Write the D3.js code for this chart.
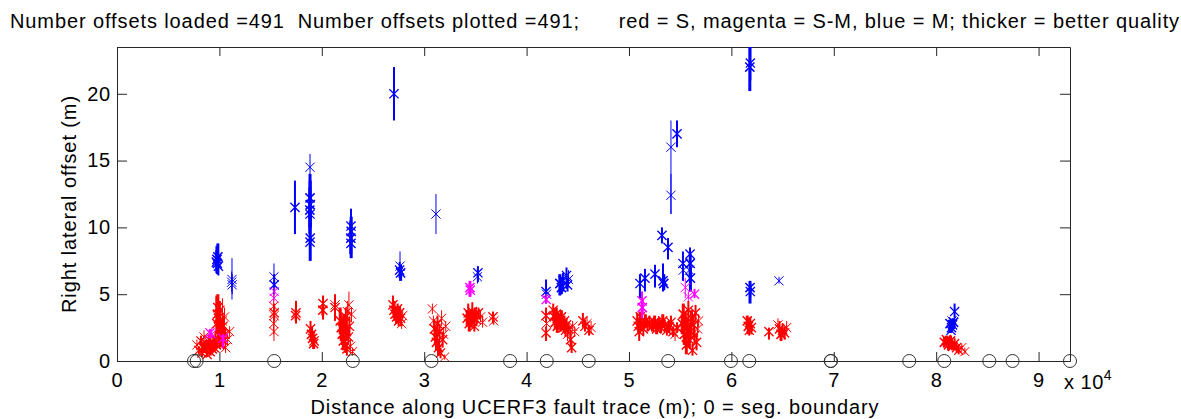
<!DOCTYPE html>
<html><head><meta charset="utf-8">
<script src="https://cdn.jsdelivr.net/npm/d3@7"></script>
<style>
body{margin:0;background:#fff}
text{font-family:"Liberation Sans",Arial,Helvetica,sans-serif;fill:#000}
</style>
</head><body>
<svg id="chart" width="1181" height="419"></svg>
<script>
// ---------------- DATA ----------------
const titleText = "Number offsets loaded =491  Number offsets plotted =491;      red = S, magenta = S-M, blue = M; thicker = better quality";
const xLabelText = "Distance along UCERF3 fault trace (m); 0 = seg. boundary";
const yLabelText = "Right lateral offset (m)";
const xTicks = [0, 10000, 20000, 30000, 40000, 50000, 60000, 70000, 80000, 90000];
const yTicks = [0, 5, 10, 15, 20];
const yMax = 23.5;

// segment boundaries (m), plotted as circles at offset 0
const segBoundaries = [7520, 7780, 15350, 23030, 30710, 38390, 41970, 46070, 53830,
  59960, 61750, 69700, 69730, 77370, 80790, 85190, 87460, 93070];

// rows: [distance (m), offset (m), min offset, max offset, quality 1..3]
const offsetsS = [
  [7800,1.2,0.8,1.6,1],[8000,0.8,0.5,1.1,2],[8200,1.5,1.1,1.9,2],[8300,0.6,0.3,0.9,2],[8400,1.0,0.6,1.4,3],
  [8500,1.8,1.4,2.3,1],[8600,0.9,0.6,1.3,3],[8700,1.3,0.9,1.6,3],[8800,0.5,0.3,0.8,2],[8900,1.1,0.8,1.5,3],
  [9000,1.6,1.2,2.0,2],[9100,0.7,0.4,1.0,3],[9200,1.2,0.9,1.6,3],[9300,0.9,0.6,1.2,3],[9400,1.4,1.0,1.8,2],
  [9500,1.0,0.7,1.3,3],[9600,1.7,1.3,2.1,2],[9700,1.2,0.9,1.5,3],[9750,2.8,2.0,4.9,3],[9800,3.5,2.5,4.8,3],
  [9850,4.0,3.0,5.0,3],[9900,3.2,2.4,4.2,3],[9950,2.5,1.8,3.5,2],[10000,1.9,1.4,2.6,3],[10050,3.8,3.0,4.5,2],
  [10100,1.3,1.0,1.7,3],[10200,2.2,1.5,3.0,3],[10300,3.0,1.0,4.7,1],[10350,2.6,1.8,3.4,2],[10400,1.5,0.9,2.2,2],
  [10500,3.3,2.5,4.0,1],[10550,2.0,1.5,2.5,2],[10600,1.0,0.6,1.4,1],[10800,1.6,1.2,2.0,1],[11000,2.2,1.8,2.6,1],
  [15300,4.1,3.2,5.0,1],[15350,3.4,2.8,4.0,1],[15300,2.8,2.0,3.6,1],[15330,2.2,1.5,2.9,1],[15350,3.6,3.0,4.3,2],
  [17480,3.6,2.8,4.5,2],[17450,3.4,3.0,3.9,2],
  [18900,2.4,1.8,3.0,2],[19000,2.0,1.5,2.6,3],[19100,1.7,1.3,2.2,3],[19200,1.3,0.9,1.7,3],[19250,1.5,1.0,2.0,2],
  [20120,4.3,3.1,4.9,2],[20100,3.8,3.4,4.2,3],[21290,4.0,3.0,5.0,2],[21300,4.2,3.8,4.6,1],
  [21800,3.0,2.0,4.0,3],[21900,2.5,1.5,3.5,3],[22000,2.0,1.2,2.8,3],[22100,1.5,0.8,2.2,3],[22200,2.8,2.0,3.5,3],
  [22300,1.2,0.6,1.8,2],[22350,3.3,2.5,4.0,2],[22400,2.2,1.5,3.0,3],[22450,0.9,0.4,1.4,2],[22500,3.7,3.0,4.5,1],
  [22600,1.8,1.2,2.4,2],[22650,4.2,3.5,5.2,1],[22700,2.6,2.0,3.3,2],[22800,1.1,0.7,1.6,1],[22900,3.5,2.9,4.0,1],
  [23000,0.7,0.4,1.0,1],
  [26950,4.2,3.6,4.9,2],[27050,3.8,3.2,4.5,3],[27150,3.5,3.0,4.0,3],[27300,3.3,2.8,3.8,3],[27400,3.9,3.4,4.3,2],
  [27500,3.0,2.6,3.5,2],[27600,3.6,3.0,4.1,3],[27700,3.2,2.6,3.6,2],[27800,2.8,2.4,3.2,1],[27900,3.4,3.0,3.8,1],
  [30800,3.9,3.5,4.3,1],[30900,3.0,2.5,3.4,1],[31000,2.4,1.8,3.0,2],[31100,1.8,1.2,2.5,3],[31200,1.4,0.8,2.0,3],
  [31300,2.8,2.2,3.4,2],[31400,1.0,0.4,1.5,3],[31500,2.2,1.6,2.8,2],[31600,0.6,0.2,1.0,2],[31700,3.2,2.6,3.8,1],
  [31800,1.6,1.0,2.2,2],[31900,2.0,1.5,2.5,1],[32000,0.3,0.1,0.5,1],[32100,2.6,2.2,3.0,1],
  [34200,3.2,2.6,3.8,3],[34300,3.6,3.0,4.3,2],[34400,2.8,2.2,3.3,3],[34500,3.4,3.0,3.8,3],[34600,3.0,2.5,3.6,3],
  [34700,3.7,3.2,4.4,2],[34800,3.3,2.8,3.7,3],[34900,2.6,2.2,3.0,2],[35000,3.5,3.0,4.0,3],[35100,3.1,2.6,3.5,2],
  [35300,3.6,3.2,4.0,2],[35500,3.3,2.9,3.8,1],[35700,2.9,2.5,3.4,1],
  [36720,3.3,2.8,3.7,2],[36800,3.0,2.7,3.4,1],
  [41900,3.4,2.9,4.0,2],[41900,2.1,1.5,2.6,2],[41950,2.8,2.2,3.4,1],
  [42600,3.8,3.0,4.3,2],[42700,3.3,2.8,3.9,3],[42800,2.9,2.4,3.5,3],[42900,3.5,3.0,4.0,3],[43000,2.6,2.1,3.1,3],
  [43100,3.1,2.7,3.6,3],[43200,3.0,2.6,3.4,3],[43300,2.7,2.2,3.1,2],[43400,3.3,2.9,3.8,3],[43500,2.8,2.4,3.2,3],
  [43600,2.5,2.1,3.0,2],[43700,3.0,2.6,3.4,2],[43800,2.3,1.8,2.8,2],[43900,2.7,2.3,3.2,2],[44000,2.0,1.5,2.5,1],
  [44100,2.4,2.0,2.9,2],[44300,1.6,1.0,2.2,2],[44400,1.0,0.6,1.5,2],[44500,2.6,2.2,3.0,1],[44700,2.2,1.8,2.6,1],
  [45500,3.0,2.5,3.6,2],[45700,2.6,2.2,3.1,2],[45900,2.8,2.4,3.3,1],[46100,2.3,1.9,2.7,2],[46300,2.5,2.0,3.0,1],
  [50800,3.0,2.5,3.6,2],[50900,2.6,2.0,3.2,2],[51000,2.2,1.5,2.8,2],[51100,3.3,2.8,3.7,3],[51200,2.8,2.3,3.3,3],
  [51400,2.4,1.9,3.0,2],[51600,3.0,2.5,3.5,3],[51800,2.7,2.2,3.2,2],[52000,2.9,2.4,3.4,2],
  [52300,2.6,2.2,3.0,3],[52500,2.9,2.4,3.4,3],[52700,2.4,2.0,2.9,3],[52900,2.8,2.4,3.2,3],[53100,2.5,2.1,3.0,3],
  [53300,3.0,2.5,3.5,3],[53500,2.7,2.2,3.1,2],[53700,2.3,1.9,2.8,2],[53900,2.6,2.1,3.0,3],[54100,2.9,2.5,3.4,2],
  [54300,2.2,1.8,2.6,2],[54500,2.0,1.5,2.5,1],[54700,2.5,2.1,2.9,2],
  [55200,2.8,2.0,3.5,3],[55300,3.5,2.8,4.3,3],[55400,2.0,1.2,2.8,3],[55500,3.0,2.4,3.6,3],[55600,1.2,0.5,2.0,3],
  [55700,2.5,1.8,3.2,3],[55800,3.8,3.0,4.5,2],[55900,1.6,1.0,2.3,3],[56000,2.2,1.6,2.9,3],[56100,3.2,2.6,3.8,3],
  [56200,0.8,0.4,1.3,2],[56300,2.7,2.0,3.4,2],[56400,1.9,1.3,2.6,2],[56500,3.6,3.0,4.2,2],[56600,1.4,0.8,2.0,2],
  [56700,2.4,1.8,3.0,1],[56800,3.0,2.5,3.5,1],
  [61550,3.0,2.4,3.4,3],[61650,2.6,2.0,3.2,3],[61750,2.3,1.9,2.8,2],[61850,2.8,2.3,3.3,2],[61950,2.5,2.0,3.0,2],
  [63670,2.2,1.6,2.5,2],
  [64550,2.7,2.2,3.2,1],[64700,2.4,1.8,3.0,2],[64850,2.0,1.5,2.5,3],[65000,2.3,1.8,2.8,2],[65200,2.1,1.6,2.6,2],
  [65400,2.5,2.0,3.0,1],
  [80800,1.4,1.0,1.8,3],[81000,1.6,1.2,1.9,3],[81200,1.2,0.8,1.6,3],[81400,1.5,1.1,1.9,3],[81600,1.1,0.8,1.5,3],
  [81800,1.3,0.9,1.7,2],[82000,1.0,0.6,1.4,2],[82200,0.8,0.5,1.2,2],[82500,1.0,0.7,1.3,1],[82800,0.7,0.5,1.0,1]
];

const offsetsSM = [
  [9080,2.1,1.7,2.4,2],[9250,2.0,1.7,2.5,1],[10350,1.7,1.0,2.0,2],
  [15350,5.2,4.9,5.5,1],[15330,4.7,4.5,5.0,1],
  [34470,5.5,4.8,6.0,3],[34500,5.3,4.9,5.7,2],
  [41920,4.6,4.3,5.0,2],
  [51270,4.5,3.2,5.2,2],[51300,4.0,3.5,4.6,3],
  [55500,5.5,4.7,6.2,1],[56400,5.0,4.7,5.4,2],[55800,4.8,4.5,5.2,1]
];

const offsetsM = [
  [9760,7.6,6.8,8.6,3],[9800,7.3,6.5,8.2,3],[9850,7.8,7.0,8.8,3],[9900,7.1,6.4,7.8,2],[9700,7.4,6.6,8.3,2],
  [11230,6.1,4.6,7.7,1],[11250,5.7,5.0,6.5,1],[11200,5.9,5.2,6.7,1],
  [15330,6.3,5.0,7.3,1],[15350,5.7,5.0,6.5,2],
  [17380,11.5,9.5,13.5,2],
  [18850,14.5,13.4,15.5,1],[18850,12.2,10.0,14.0,3],[18870,11.7,10.0,13.5,3],[18830,11.3,9.5,13.0,3],
  [18850,11.0,9.5,12.5,2],[18870,9.2,7.5,11.0,3],[18850,8.9,7.5,10.5,2],
  [22850,10.1,8.5,11.4,2],[22870,9.7,7.7,10.8,3],[22830,9.2,8.0,10.5,3],[22850,8.8,7.7,10.0,2],
  [27050,20.0,18.0,22.0,2],
  [27640,7.1,6.0,8.2,1],[27700,6.6,6.0,7.2,3],[27600,6.8,6.2,7.4,2],
  [31150,11.0,9.5,12.5,1],
  [35250,6.6,5.9,7.1,2],[35200,6.3,5.8,6.9,1],
  [41900,5.2,4.3,6.1,2],[41950,5.0,4.5,5.5,1],
  [43250,5.8,4.9,6.5,3],[43400,5.5,5.0,6.3,3],[43550,6.0,5.2,6.6,2],[43900,6.4,5.4,7.0,2],[44100,6.1,5.5,6.8,1],
  [44000,5.7,5.2,6.2,2],
  [51070,5.8,4.7,6.5,2],[51560,6.2,5.2,6.9,2],[52540,6.5,5.5,7.2,2],[53320,6.0,5.2,7.3,2],[53400,5.8,5.3,6.5,3],
  [53220,9.4,8.8,10.0,2],[53810,8.5,7.6,9.2,2],[54100,16.0,11.0,18.0,1],[54100,12.4,11.0,14.0,1],
  [54690,17.0,16.0,18.0,2],[55270,7.3,6.0,8.2,2],[55300,6.8,6.0,7.5,1],
  [55960,8.0,6.5,8.5,2],[55980,7.3,6.2,8.0,3],[56000,6.2,5.2,7.0,3],[55900,6.8,6.0,7.5,1],
  [61800,22.0,20.2,23.5,3],[61850,22.3,21.0,23.5,2],[61820,5.5,4.3,6.0,3],[61850,5.2,4.8,5.8,2],
  [64650,6.0,5.8,6.3,1],
  [81350,2.8,2.1,3.1,3],[81500,2.5,2.2,3.0,3],[81600,2.7,2.3,3.1,2],[81700,2.9,2.4,3.2,3],[81450,2.3,2.1,2.6,2],
  [81800,3.7,3.2,4.3,2],[81550,3.0,2.6,3.2,1]
];

const seriesColors = {S: "#ff0000", SM: "#ff00ff", M: "#0000ff"};

// ---------------- CHART ----------------
const W = 1181, H = 419;
const L = 117, R = 1070, T = 47, B = 361;
const svg = d3.select("#chart");
svg.append("rect").attr("width", W).attr("height", H).attr("fill", "#fff");

const x = d3.scaleLinear().domain([0, d3.max(segBoundaries)]).range([L, R]);
const y = d3.scaleLinear().domain([0, yMax]).range([B, T]);

svg.append("defs").append("clipPath").attr("id", "clip")
  .append("rect").attr("x", L).attr("y", T).attr("width", R - L).attr("height", B - T);

const FS = 20;
const LS = 0.9;
const axisColor = "#262626";

// axes
const gx = svg.append("g").attr("transform", `translate(0,${B})`)
  .call(d3.axisBottom(x).tickValues(xTicks).tickSize(-9).tickSizeOuter(0).tickPadding(12)
    .tickFormat(d => d3.format("d")(d / 10000)));
const gxt = svg.append("g").attr("transform", `translate(0,${T})`)
  .call(d3.axisTop(x).tickValues(xTicks).tickSize(-9).tickSizeOuter(0).tickFormat(""));
const gy = svg.append("g").attr("transform", `translate(${L},0)`)
  .call(d3.axisLeft(y).tickValues(yTicks).tickSize(-10).tickSizeOuter(0).tickPadding(6));
const gyr = svg.append("g").attr("transform", `translate(${R},0)`)
  .call(d3.axisRight(y).tickValues(yTicks).tickSize(-10).tickSizeOuter(0).tickFormat(""));
[gx, gxt, gy, gyr].forEach(g => {
  g.selectAll("path,line").attr("stroke", axisColor);
  g.selectAll("text").attr("font-size", FS).attr("letter-spacing", 0.8)
    .attr("font-family", '"Liberation Sans",Arial,sans-serif').attr("fill", "#000");
});

// data marks
const plot = svg.append("g").attr("clip-path", "url(#clip)");
const barWidth = q => [0, 1, 2, 3][q];
const markWidth = q => [0, 1, 1.3, 1.5][q];
const ms = 4.6;
function drawSeries(rows, color) {
  const g = plot.append("g");
  g.selectAll("line").data(rows).join("line")
    .attr("x1", d => x(d[0])).attr("x2", d => x(d[0]))
    .attr("y1", d => y(d[2])).attr("y2", d => y(d[3]))
    .attr("stroke", color).attr("stroke-width", d => barWidth(d[4]));
  g.selectAll("path").data(rows).join("path")
    .attr("d", d => {
      const cx = x(d[0]), cy = y(d[1]);
      return `M${cx - ms},${cy - ms}L${cx + ms},${cy + ms}M${cx - ms},${cy + ms}L${cx + ms},${cy - ms}`;
    })
    .attr("fill", "none").attr("stroke", color).attr("stroke-width", d => markWidth(d[4]));
}
drawSeries(offsetsS, seriesColors.S);
drawSeries(offsetsM, seriesColors.M);
drawSeries(offsetsSM, seriesColors.SM);

// segment boundary circles
svg.append("g").selectAll("circle").data(segBoundaries).join("circle")
  .attr("cx", d => x(d)).attr("cy", y(0)).attr("r", 6.5)
  .attr("fill", "none").attr("stroke", "#333").attr("stroke-width", 1);

// exponent label
const ex = svg.append("text").attr("x", 1064).attr("y", 389).attr("font-size", FS).attr("letter-spacing", 0.5);
ex.append("tspan").text("x 10");
ex.append("tspan").attr("dy", -9).attr("font-size", 14).text("4");

// title
svg.append("text").attr("x", 595).attr("y", 28).attr("text-anchor", "middle")
  .attr("font-size", FS).attr("letter-spacing", LS).style("white-space", "pre").text(titleText);

// x label
svg.append("text").attr("x", 595).attr("y", 414).attr("text-anchor", "middle")
  .attr("font-size", FS).attr("letter-spacing", LS).text(xLabelText);

// y label
svg.append("text").attr("transform", `translate(76,${(T + B) / 2}) rotate(-90)`)
  .attr("text-anchor", "middle").attr("font-size", FS).attr("letter-spacing", LS).text(yLabelText);
</script>
</body></html>
